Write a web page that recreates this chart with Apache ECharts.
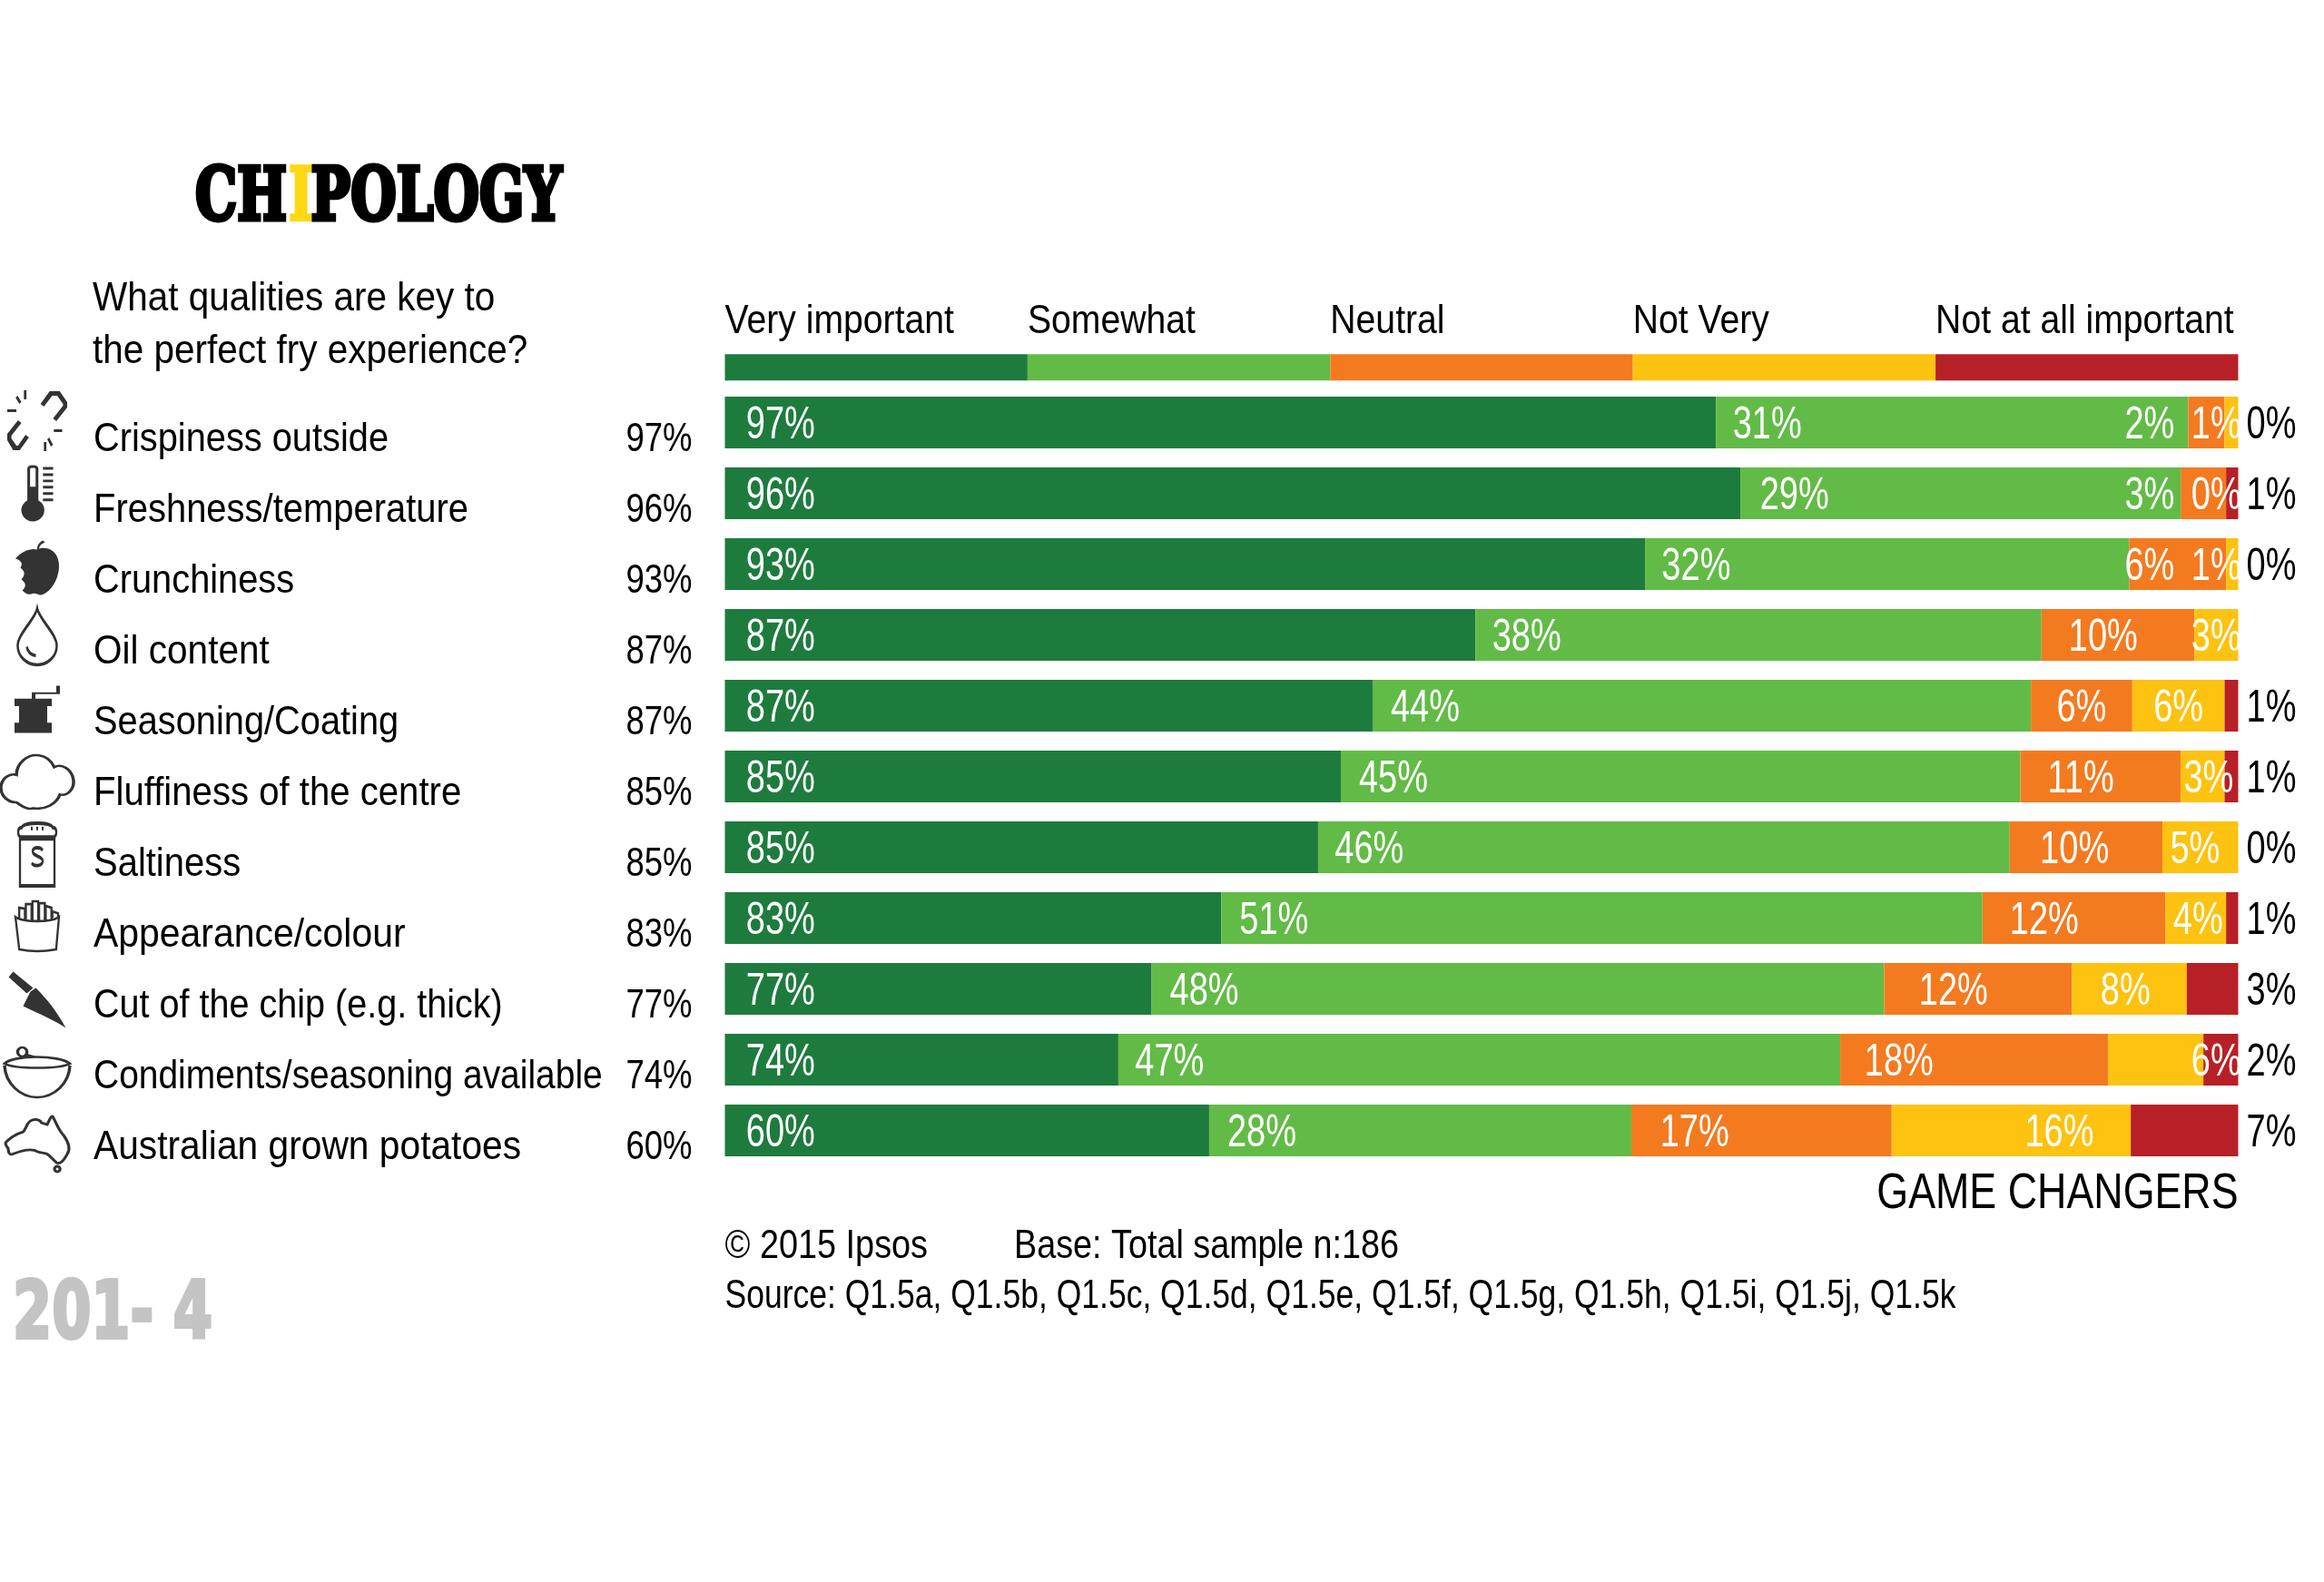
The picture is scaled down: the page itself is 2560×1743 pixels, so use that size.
<!DOCTYPE html>
<html><head><meta charset="utf-8">
<style>html,body{margin:0;padding:0;background:#fff}#c{width:2560px;height:1743px}</style>
<script src="https://cdn.jsdelivr.net/npm/echarts@6/dist/echarts.min.js"></script>
</head><body><div id="c"></div>
<script>
const FONT = '"Liberation Sans",sans-serif';
const categories = ['Crispiness outside','Freshness/temperature','Crunchiness','Oil content','Seasoning/Coating','Fluffiness of the centre','Saltiness','Appearance/colour','Cut of the chip (e.g. thick)','Condiments/seasoning available','Australian grown potatoes'];
const topTwo = ['97%','96%','93%','87%','87%','85%','85%','83%','77%','74%','60%'];
const legendNames = ['Very important','Somewhat','Neutral','Not Very','Not at all important'];
const colours = ['#1e7b3e','#62bb46','#f47a20','#fec210','#b72026'];
const veryImportant = [65.5,67.1,60.8,49.6,42.8,40.7,39.2,32.8,28.2,26.0,32.0];
const somewhat      = [31.2,29.1,32.0,37.4,43.5,44.9,45.7,50.3,48.4,47.7,27.9];
const neutral       = [2.4,3.0,6.4,10.1,6.7,10.6,10.1,12.1,12.4,17.7,17.2];
const notVery       = [0.9,0,0.8,2.9,6.1,2.9,5.0,4.0,7.6,6.3,15.8];
const notAtAll      = [0,0.8,0,0,0.9,0.9,0,0.8,3.4,2.3,7.1];
const seriesValues = [veryImportant,somewhat,neutral,notVery,notAtAll];
const legendShare = [20,20,20,20,20];
const labelsOutside = ['0%','1%','0%','','1%','1%','0%','1%','3%','2%','7%'];
const segmentLabels = [
 ['97%','31%','2%','1%'],['96%','29%','3%','0%'],['93%','32%','6%','1%'],['87%','38%','10%','3%'],
 ['87%','44%','6%','6%'],['85%','45%','11%','3%'],['85%','46%','10%','5%'],['83%','51%','12%','4%'],
 ['77%','48%','12%','8%'],['74%','47%','18%','6%'],['60%','28%','17%','16%']];
const segmentLabelAt = [
 [1.4,66.6,92.5,96.9],[1.4,68.4,92.5,96.9],[1.4,61.9,92.5,96.9],[1.4,50.7,88.8,96.9],
 [1.4,44.0,88.0,94.4],[1.4,41.9,87.4,96.4],[1.4,40.3,86.9,95.5],[1.4,34.0,84.9,95.7],
 [1.4,29.4,78.9,90.9],[1.4,27.1,75.3,96.9],[1.4,33.2,61.8,85.9]];
const qualityFit = [.904,.908,.904,.921,.904,.912,.908,.93,.899,.885,.926];

const P = {
 chain:'M40 15L51 1H63L72 13V19L59 34L55 31L67 17V15L60 6H54L44 18ZM26 52L15 66H7L0 55V48L13 33L17 36L5 50V53L11 61H13L22 49ZM20 0h3v10h-3zM10 8L12.5 6L17 13L14.5 15ZM0 21h11v3h-11zM44 57h3v10h-3zM55 60L52.5 62L48 54L50.5 52ZM56 43h10v3h-10z',
 thermo:'M4 4Q4 0 10 0Q16 0 16 4V39A12.5 12.5 0 1 1 4 39ZM7 4V24H13V4Q13 3 10 3Q7 3 7 4ZM21 2h11v3h-11zM21 9h11v3h-11zM21 16h11v3h-11zM21 23h11v3h-11zM21 30h11v3h-11zM21 37h11v3h-11z',
 apple:'M24 10C30 6 44 8 46 24C48 40 38 58 28 60C24 60 22 57 18 59C14 60 12 58 9 55C14 50 12 46 8 43C12 38 12 34 7 30C10 26 8 22 2 20C8 12 18 8 24 10ZM24 10C24 5 26 2 30 0L32 2C28 4 26 6 26 10Z',
 drop:'M21.5 0C24 12 43 28 43 41A21.5 21 0 0 1 0 41C0 28 19 12 21.5 0ZM10 42C11 48 15 51 20 52',
 grinder:'M0 15H41V23H36V41H41V52H0V41H5V23H0ZM19 15V8H46V1H50V10H23V15Z',
 cloud:'M18 50C6 50 0 40 2 32C4 24 12 20 18 22C18 10 30 0 42 2C50 3 55 8 58 14C66 10 76 16 78 26C80 36 72 44 64 42C60 52 48 58 36 56C30 58 24 54 18 50Z',
 salt:'M4 18Q0 18 0 13Q0 8 4 8C6 2 36 2 38 8Q42 8 42 13Q42 18 38 18ZM2 20H40V69H2ZM14 9h2M20 9h2M26 9h2M27 32C25 28 16 28 16 33C16 38 27 38 27 43C27 49 17 49 15 45',
 fries:'M1 18C10 24 38 24 47 18L44 53Q24 57 5 53ZM5 20V8L11 9V22M12 22V4H18V23M19 23V1H25V23M26 23V3H32V22M33 21V6L39 8V20M40 19V12L46 14V18',
 knife:'M0 6L5 0L27 18L20 24ZM24 22L30 18C42 30 52 42 63 62C48 52 36 48 16 38Z',
 bowl:'M1 18C10 8 60 8 71 18C60 24 12 24 1 18ZM1 20C2 40 18 55 36 55C54 55 70 40 71 20M15 5A5 5 0 1 1 25 5A5 5 0 1 1 15 5M24 8L34 11',
 aus:'M1 30C4 26 12 20 20 18C24 14 24 6 30 5C32 4 38 4 40 8L46 10C48 6 50 0 52 1C56 8 58 16 64 22C68 28 72 36 68 42C64 50 60 54 56 52L48 44C44 40 40 42 36 40C30 36 20 38 10 42C6 44 4 42 4 38C4 34 0 34 1 30ZM54 59A3 3 0 1 1 60 59A3 3 0 1 1 54 59'
};
const icons = [
 [P.chain,[66,67],-2,true,0],[P.thermo,[35,62],0,true,0],[P.apple,[48,60],4,true,0],[P.drop,[43,62],2,false,3],
 [P.grinder,[50,52],4,true,0],[P.cloud,[80,59],6,false,3],[P.salt,[42,69],8,false,3],[P.fries,[48,55],9,false,2.5],
 [P.knife,[63,62],12,true,0],[P.bowl,[72,55],14,false,3],[P.aus,[70,61],15,false,3]];

// Condensed text: the reference face is a condensed sans, so real text is squeezed horizontally.
function textSeries(name, xi, yi, data, s){
  return {type:'custom',name,xAxisIndex:xi,yAxisIndex:yi,silent:true,z:6,clip:false,encode:{x:0,y:1},data,
    renderItem(params,api){
      const d=data[params.dataIndex];
      const p=api.coord([d[0],d[1]]);
      return {type:'text',x:p[0],y:p[1]+s.dy,scaleX:s.fit?s.fit[params.dataIndex]:s.sx,
        style:{text:d[2],font:s.size+'px '+FONT,fill:s.color,align:s.align,verticalAlign:'middle'}};
    }};
}
const series = legendNames.map((n,i)=>({
  name:n,type:'bar',stack:'rows',barWidth:57,xAxisIndex:0,yAxisIndex:0,z:2,silent:true,
  itemStyle:{color:colours[i]},data:seriesValues[i]
}));
legendNames.forEach((n,i)=>series.push({
  name:n+' key',type:'bar',stack:'key',barWidth:29,xAxisIndex:1,yAxisIndex:1,silent:true,
  itemStyle:{color:colours[i]},data:[legendShare[i]]
}));
series.push(textSeries('Key labels',1,1,legendNames.map((n,i)=>[legendShare.slice(0,i).reduce((a,b)=>a+b,0),0,n]),
  {size:44,sx:0.89,color:'#000',align:'left',dy:-50}));
series.push(textSeries('Segment labels',0,0,segmentLabels.flatMap((r,ri)=>r.map((t,ci)=>[segmentLabelAt[ri][ci],ri,t])),
  {size:50,sx:0.76,color:'#fff',align:'left',dy:4}));
series.push(textSeries('Qualities',0,0,categories.map((t,i)=>[-41.72,i,t]),{size:44,fit:qualityFit,color:'#000',align:'left',dy:19}));
series.push(textSeries('Top two',0,0,topTwo.map((t,i)=>[-2.16,i,t]),{size:44,sx:0.83,color:'#000',align:'right',dy:19}));
series.push(textSeries('Not at all',0,0,labelsOutside.map((t,i)=>[103.84,i,t]),{size:50,sx:0.76,color:'#000',align:'right',dy:4}));
series.push({
  type:'scatter',name:'Icons',xAxisIndex:2,yAxisIndex:2,clip:false,silent:true,
  data:icons.map((c,i)=>({
    value:[0.5,i],symbol:'path://'+c[0],symbolSize:c[1],symbolOffset:[0,c[2]],symbolKeepAspect:false,
    itemStyle:c[3]?{color:'#000'}:{color:'transparent',borderColor:'#000',borderWidth:c[4]}
  }))
});

const chart = echarts.init(document.getElementById('c'),null,{renderer:'canvas'});
const G = 426.5;
const titleFont='bold 80px "DejaVu Serif"';
chart.setOption({
 animation:false,backgroundColor:'#fff',
 grid:[
  {left:798.5,top:G,width:1667,height:858},
  {left:798.5,top:390.2,width:1667,height:29},
  {left:0,top:G,width:82,height:858}
 ],
 xAxis:[
  {gridIndex:0,type:'value',min:0,max:100,show:false},
  {gridIndex:1,type:'value',min:0,max:100,show:false},
  {gridIndex:2,type:'value',min:0,max:1,show:false}
 ],
 yAxis:[
  {gridIndex:0,type:'category',inverse:true,data:categories,show:false},
  {gridIndex:1,type:'category',data:['key'],show:false},
  {gridIndex:2,type:'category',inverse:true,data:categories,show:false}
 ],
 graphic:[
  {type:'group',x:215,y:261,scaleX:0.725,children:[
    {type:'text',x:0,y:0,style:{text:'CH',font:titleFont,fill:'#000',stroke:'#000',lineWidth:5,verticalAlign:'bottom'}},
    {type:'text',x:142,y:0,style:{text:'I',font:titleFont,fill:'#ffd814',stroke:'#ffd814',lineWidth:4,verticalAlign:'bottom'}},
    {type:'text',x:176,y:0,style:{text:'POLOGY',font:titleFont,fill:'#000',stroke:'#000',lineWidth:5,verticalAlign:'bottom'}}
  ]},
  {type:'text',x:102,y:301,scaleX:0.92,style:{text:'What qualities are key to\nthe perfect fry experience?',font:'44px '+FONT,fill:'#000',lineHeight:58}},
  {type:'text',x:2465.6,y:1288,scaleX:0.8,style:{text:'GAME CHANGERS',font:'56px '+FONT,fill:'#000',align:'right'}},
  {type:'text',x:798.5,y:1352,scaleX:0.86,style:{text:'\u00a9 2015 Ipsos',font:'44px '+FONT,fill:'#000'}},
  {type:'text',x:1117,y:1352,scaleX:0.858,style:{text:'Base: Total sample n:186',font:'44px '+FONT,fill:'#000'}},
  {type:'text',x:798.5,y:1407,scaleX:0.807,style:{text:'Source: Q1.5a, Q1.5b, Q1.5c, Q1.5d, Q1.5e, Q1.5f, Q1.5g, Q1.5h, Q1.5i, Q1.5j, Q1.5k',font:'44px '+FONT,fill:'#000'}},
  {type:'text',x:14,y:1407,scaleX:0.705,style:{text:'201- 4',font:'bold 88px "DejaVu Sans"',fill:'#c4c4c4',stroke:'#c4c4c4',lineWidth:4}}
 ],
 series
});
</script></body></html>
